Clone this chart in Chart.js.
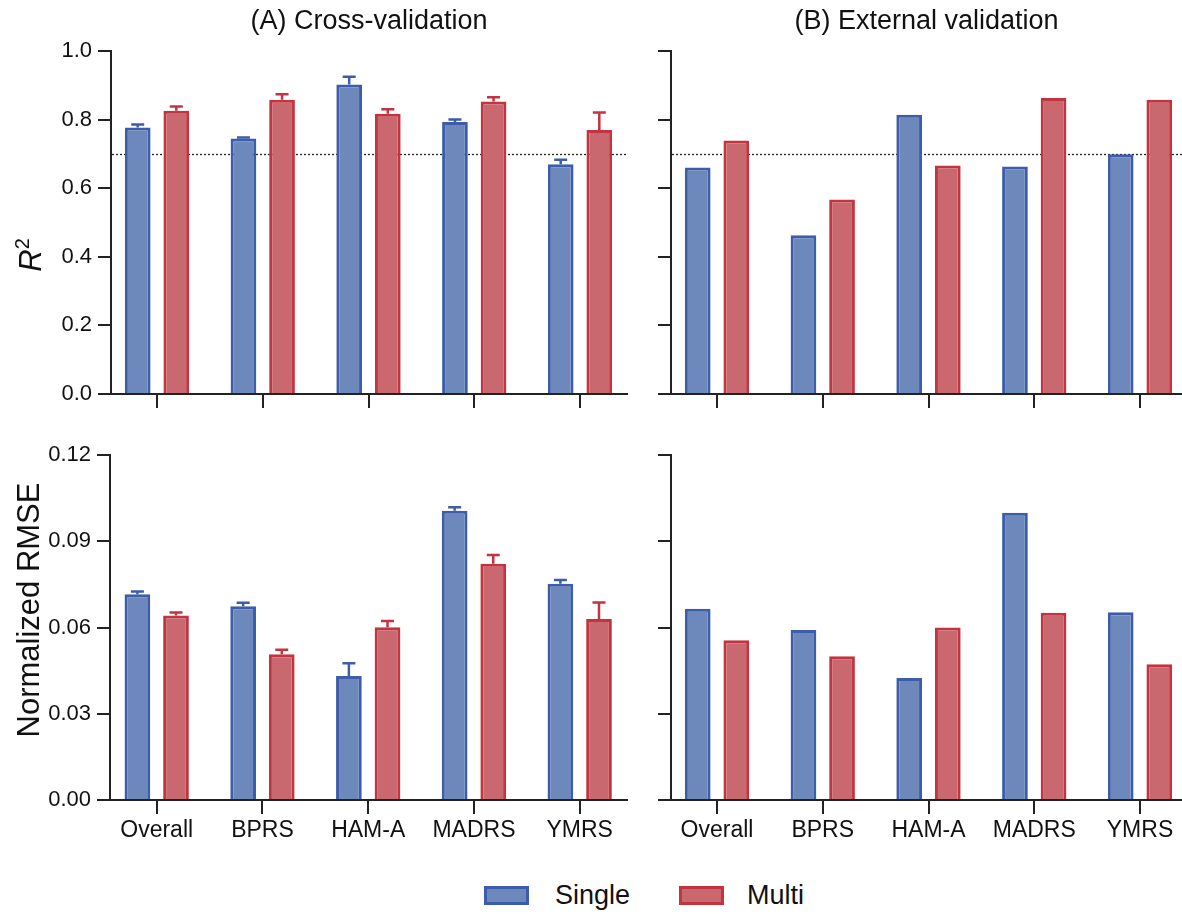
<!DOCTYPE html>
<html>
<head>
<meta charset="utf-8">
<script src="https://cdn.jsdelivr.net/npm/chart.js@4.4.1/dist/chart.umd.min.js"></script>
<style>
html,body{margin:0;padding:0;background:#fff;overflow:hidden;width:1182px;height:914px;}
.pane{position:absolute;}
.legtxt{position:absolute;font-family:'Liberation Sans',Arial,Helvetica,sans-serif;font-size:27px;color:#111;line-height:27px;}
.box{position:absolute;width:45px;height:19px;box-sizing:border-box;border:3px solid;}
</style>
</head>
<body>
<div class="pane" style="left:0;top:0;width:640px;height:420px"><canvas id="tl"></canvas></div>
<div class="pane" style="left:640px;top:0;width:542px;height:420px"><canvas id="tr"></canvas></div>
<div class="pane" style="left:0;top:420px;width:640px;height:450px"><canvas id="bl"></canvas></div>
<div class="pane" style="left:640px;top:420px;width:542px;height:450px"><canvas id="br"></canvas></div>

<div class="box" style="left:484px;top:886px;background:#6d88ba;border-color:#3d5ca9"></div>
<div class="legtxt" style="left:555px;top:882px">Single</div>
<div class="box" style="left:679px;top:886px;background:#c9686f;border-color:#c2343f"></div>
<div class="legtxt" style="left:747px;top:882px">Multi</div>

<script>
// ---- data ----
const categories = ['Overall', 'BPRS', 'HAM-A', 'MADRS', 'YMRS'];
const seriesNames = ['Single', 'Multi'];

const cvR2Single      = [0.777, 0.745, 0.902, 0.793, 0.670];
const cvR2SingleErr   = [0.009, 0.003, 0.023, 0.007, 0.013];
const cvR2Multi       = [0.826, 0.858, 0.817, 0.853, 0.770];
const cvR2MultiErr    = [0.012, 0.016, 0.013, 0.012, 0.051];

const extR2Single     = [0.660, 0.463, 0.814, 0.663, 0.699];
const extR2Multi      = [0.739, 0.567, 0.666, 0.863, 0.858];

const cvRmseSingle    = [0.0716, 0.0674, 0.0431, 0.1006, 0.0752];
const cvRmseSingleErr = [0.0009, 0.0012, 0.0045, 0.0012, 0.0013];
const cvRmseMulti     = [0.0642, 0.0507, 0.0601, 0.0822, 0.0630];
const cvRmseMultiErr  = [0.0010, 0.0016, 0.0022, 0.0030, 0.0057];

const extRmseSingle   = [0.0665, 0.0591, 0.0424, 0.0999, 0.0653];
const extRmseMulti    = [0.0556, 0.0500, 0.0600, 0.0651, 0.0472];

const r2Ticks   = [0, 0.2, 0.4, 0.6, 0.8, 1.0];
const rmseTicks = [0, 0.03, 0.06, 0.09, 0.12];
const r2Threshold = 0.7;
const panelTitles = ['(A) Cross-validation', '(B) External validation'];

// ---- styles ----
const FF = "'Liberation Sans', Arial, Helvetica, sans-serif";
const AX = '#222';
const TXT = '#111';
const BLUE_FILL = '#6d88ba', BLUE_LINE = '#3d5ca9';
const RED_FILL = '#c9686f', RED_LINE = '#c2343f';

const errorBarPlugin = {
  id: 'errorBars',
  afterDatasetsDraw(chart) {
    const ctx = chart.ctx, y = chart.scales.y;
    chart.data.datasets.forEach((ds, di) => {
      if (!ds.errors) return;
      const meta = chart.getDatasetMeta(di);
      meta.data.forEach((bar, i) => {
        const top = y.getPixelForValue(ds.data[i].y + ds.errors[i]);
        ctx.save();
        ctx.strokeStyle = ds.borderColor;
        ctx.lineWidth = 2.5;
        ctx.beginPath();
        ctx.moveTo(bar.x, bar.y);
        ctx.lineTo(bar.x, top);
        ctx.moveTo(bar.x - 6.5, top);
        ctx.lineTo(bar.x + 6.5, top);
        ctx.stroke();
        ctx.restore();
      });
    });
  }
};

const refLinePlugin = {
  id: 'refLine',
  beforeDatasetsDraw(chart, args, opts) {
    if (opts.value === undefined || opts.value === null) return;
    const ctx = chart.ctx, a = chart.chartArea;
    const yy = Math.round(chart.scales.y.getPixelForValue(opts.value)) + 0.5;
    ctx.save();
    ctx.setLineDash([2, 2]);
    ctx.lineWidth = 1.3;
    ctx.strokeStyle = '#222';
    ctx.beginPath();
    ctx.moveTo(a.left + 1, yy);
    ctx.lineTo(a.right, yy);
    ctx.stroke();
    ctx.restore();
  }
};

const sideTitlePlugin = {
  id: 'sideTitle',
  afterDraw(chart, args, opts) {
    if (!opts.parts) return;
    const ctx = chart.ctx;
    ctx.save();
    ctx.translate(opts.x, opts.y);
    ctx.rotate(-Math.PI / 2);
    ctx.fillStyle = TXT;
    ctx.textBaseline = 'alphabetic';
    ctx.textAlign = 'left';
    let total = 0;
    opts.parts.forEach(p => { ctx.font = p.font; total += ctx.measureText(p.text).width; });
    let cx = -total / 2;
    opts.parts.forEach(p => {
      ctx.font = p.font;
      ctx.fillText(p.text, cx, p.dy || 0);
      cx += ctx.measureText(p.text).width;
    });
    ctx.restore();
  }
};

function panel(id, o) {
  const datasets = o.series.map((s, k) => ({
    label: seriesNames[k],
    data: categories.map((c, i) => ({ x: i, y: s.values[i] })),
    errors: s.errors || null,
    backgroundColor: k === 0 ? BLUE_FILL : RED_FILL,
    borderColor: k === 0 ? BLUE_LINE : RED_LINE,
    borderWidth: 3,
    borderSkipped: 'start',
    categoryPercentage: 0.73,
    barPercentage: 0.666
  }));
  return new Chart(document.getElementById(id), {
    type: 'bar',
    data: { datasets },
    options: {
      responsive: true,
      maintainAspectRatio: false,
      animation: false,
      events: [],
      layout: { padding: o.padding },
      plugins: {
        legend: { display: false },
        tooltip: { enabled: false },
        title: o.title ? {
          display: true, text: o.title, fullSize: false, color: TXT,
          font: { family: FF, size: 27, weight: 'normal', lineHeight: 1.2 },
          padding: { top: 5, bottom: 13.6 }
        } : { display: false },
        refLine: { value: o.refLine },
        sideTitle: o.sideTitle || {}
      },
      scales: {
        x: {
          type: 'linear',
          offset: false,
          min: o.xMin, max: o.xMax,
          afterBuildTicks: sc => { sc.ticks = categories.map((c, i) => ({ value: i })); },
          afterFit: sc => { sc.height = o.xHeight; },
          grid: { display: true, offset: false, drawOnChartArea: false, drawTicks: true, tickLength: 14, color: AX, lineWidth: 2 },
          border: { display: true, color: AX, width: 2 },
          ticks: {
            display: o.showX,
            autoSkip: false, maxRotation: 0, minRotation: 0,
            padding: 3,
            color: TXT,
            font: { family: FF, size: 23 },
            callback: v => (categories[v] !== undefined ? categories[v] : '')
          }
        },
        y: {
          min: 0, max: o.yTicks[o.yTicks.length - 1],
          afterBuildTicks: sc => { sc.ticks = o.yTicks.map(v => ({ value: v })); },
          afterFit: sc => { sc.width = o.yWidth; },
          grid: { display: true, drawOnChartArea: false, drawTicks: true, tickLength: 13, color: AX, lineWidth: 2 },
          border: { display: true, color: AX, width: 2 },
          ticks: {
            display: o.showY,
            padding: 6,
            color: TXT,
            font: { family: FF, size: 22 },
            callback: v => Number(v).toFixed(o.dec)
          }
        }
      }
    },
    plugins: [refLinePlugin, errorBarPlugin, sideTitlePlugin]
  });
}

const SP = 105.75; // pixels per category used to derive ranges
panel('tl', {
  title: panelTitles[0],
  series: [{ values: cvR2Single, errors: cvR2SingleErr }, { values: cvR2Multi, errors: cvR2MultiErr }],
  yTicks: r2Ticks, dec: 1, showY: true, showX: false,
  padding: { top: 0, left: 0, right: 13, bottom: 0 },
  yWidth: 111, xHeight: 26,
  xMin: -0.435, xMax: -0.435 + 516 / SP,
  refLine: r2Threshold,
  sideTitle: { x: 41, y: 255, parts: [
    { text: 'R', font: "italic 31px " + FF, dy: 0 },
    { text: '2', font: "20px " + FF, dy: -12 }
  ] }
});
panel('tr', {
  title: panelTitles[1],
  series: [{ values: extR2Single }, { values: extR2Multi }],
  yTicks: r2Ticks, dec: 1, showY: false, showX: false,
  padding: { top: 0, left: 0, right: 0, bottom: 0 },
  yWidth: 31, xHeight: 26,
  xMin: -0.435, xMax: -0.435 + 511 / SP,
  refLine: r2Threshold
});
panel('bl', {
  title: null,
  series: [{ values: cvRmseSingle, errors: cvRmseSingleErr }, { values: cvRmseMulti, errors: cvRmseMultiErr }],
  yTicks: rmseTicks, dec: 2, showY: true, showX: true,
  padding: { top: 35, left: 0, right: 13, bottom: 0 },
  yWidth: 110, xHeight: 70,
  xMin: -0.4416, xMax: -0.4416 + 517 / SP,
  sideTitle: { x: 39, y: 190, parts: [ { text: 'Normalized RMSE', font: "31px " + FF, dy: 0 } ] }
});
panel('br', {
  title: null,
  series: [{ values: extRmseSingle }, { values: extRmseMulti }],
  yTicks: rmseTicks, dec: 2, showY: false, showX: true,
  padding: { top: 35, left: 0, right: 0, bottom: 0 },
  yWidth: 31, xHeight: 70,
  xMin: -0.435, xMax: -0.435 + 511 / SP
});
</script>
</body>
</html>
